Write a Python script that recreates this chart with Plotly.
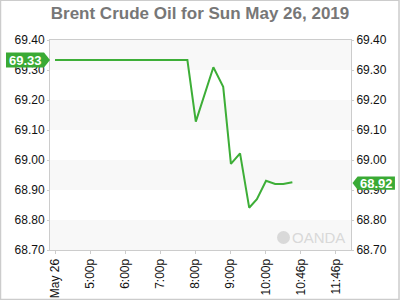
import plotly.graph_objects as go

# Data (x in hours after noon, i.e. 4.0 = 4:00p)
hours = [4.0, 7.77, 8.01, 8.51, 8.79, 9.01, 9.27, 9.53, 9.75, 10.01, 10.27, 10.50, 10.76]
prices = [69.333, 69.333, 69.128, 69.309, 69.244, 68.987, 69.022, 68.841, 68.869, 68.931, 68.920, 68.920, 68.926]

tick_pos = [4, 5, 6, 7, 8, 9, 10, 11, 12]
tick_text = ["May 26", "5:00p", "6:00p", "7:00p", "8:00p", "9:00p", "10:00p", "10:46p", "11:46p"]
y_ticks = [68.70, 68.80, 68.90, 69.00, 69.10, 69.20, 69.30, 69.40]
first_label = "69.33"
last_label = "68.92"
first_val = 69.333
last_val = 68.923

GREEN = "#3dae37"
LBL = "#3aaa35"
FRAME = "#cccccc"
FONT = "Liberation Sans, Arial, sans-serif"

x_range = [3.857, 12.43]
y_range = [68.70, 69.40]

fig = go.Figure()
fig.add_trace(go.Scatter(x=hours, y=prices, mode="lines",
                         line=dict(color=GREEN, width=2), hoverinfo="skip",
                         showlegend=False))
fig.add_trace(go.Scatter(x=[hours[0]], y=[prices[0]], yaxis="y2", mode="markers",
                         marker=dict(opacity=0), showlegend=False, hoverinfo="skip"))

shapes = []
# alternating bands
for i in range(0, len(y_ticks) - 1, 2):
    shapes.append(dict(type="rect", xref="paper", yref="y", x0=0, x1=1,
                       y0=y_ticks[i], y1=y_ticks[i + 1],
                       fillcolor="#f8f8f8", line=dict(width=0), layer="below"))

# left price label with arrow pointing right
h = 0.025
shapes.append(dict(type="path", xref="paper", yref="y",
                   path=f"M -0.1462 {first_val - h} L -0.0199 {first_val - h} L 0 {first_val} "
                        f"L -0.0199 {first_val + h} L -0.1462 {first_val + h} Z",
                   fillcolor=LBL, line=dict(width=0)))
# right price label with arrow pointing left
h2 = 0.022
shapes.append(dict(type="path", xref="paper", yref="y",
                   path=f"M 1.005 {last_val} L 1.022 {last_val - h2} L 1.146 {last_val - h2} "
                        f"L 1.146 {last_val + h2} L 1.022 {last_val + h2} Z",
                   fillcolor=LBL, line=dict(width=0)))
# outer frame
shapes.append(dict(type="rect", xref="paper", yref="paper",
                   x0=-0.1645, x1=1.1595, y0=-0.2355, y1=1.1895,
                   line=dict(color=FRAME, width=1.5), fillcolor="rgba(0,0,0,0)"))
# OANDA logo circle
shapes.append(dict(type="circle", xref="paper", yref="paper",
                   x0=(277 - 50) / 301, x1=(290 - 50) / 301,
                   y0=(250 - 244) / 210, y1=(250 - 231) / 210,
                   fillcolor="#d9d9d9", line=dict(width=0), layer="below"))

annotations = [
    dict(text=first_label, xref="paper", yref="y", x=(25 - 50) / 301, y=first_val,
         xanchor="center", yanchor="middle", showarrow=False,
         font=dict(family=FONT, size=13, color="white", weight="bold")),
    dict(text=last_label, xref="paper", yref="y", x=(376 - 50) / 301, y=last_val,
         xanchor="center", yanchor="middle", showarrow=False,
         font=dict(family=FONT, size=13, color="white", weight="bold")),
    dict(text="OANDA", xref="paper", yref="paper", x=(318 - 50) / 301, y=(250 - 237) / 210,
         xanchor="center", yanchor="middle", showarrow=False,
         font=dict(family=FONT, size=15, color="#d9d9d9")),
]

axis_font = dict(family=FONT, size=12, color="#111111")

fig.update_layout(
    width=400, height=300,
    margin=dict(l=50, r=49, t=40, b=50),
    paper_bgcolor="white", plot_bgcolor="white",
    title=dict(text="<b>Brent Crude Oil for Sun May 26, 2019</b>", x=0.5, xanchor="center",
               y=1 - 13 / 300, yanchor="middle",
               font=dict(family=FONT, size=17, color="#777777")),
    xaxis=dict(range=x_range, tickvals=tick_pos, ticktext=tick_text, tickangle=-90,
               showgrid=False, zeroline=False, showline=True, linecolor=FRAME, mirror=True,
               ticks="outside", ticklen=3, tickcolor=FRAME, tickfont=axis_font,
               automargin=False),
    yaxis=dict(range=y_range, tickvals=y_ticks, tickformat=".2f", showgrid=False,
               zeroline=False, showline=True, linecolor=FRAME, mirror=True,
               ticks="outside", ticklen=2, tickcolor=FRAME, tickfont=axis_font,
               automargin=False),
    yaxis2=dict(range=y_range, tickvals=y_ticks, tickformat=".2f", overlaying="y",
                side="right", showgrid=False, zeroline=False, showline=False,
                ticks="outside", ticklen=2, tickcolor=FRAME, tickfont=axis_font,
                automargin=False),
    shapes=shapes, annotations=annotations,
)

fig.write_html("out.html")
